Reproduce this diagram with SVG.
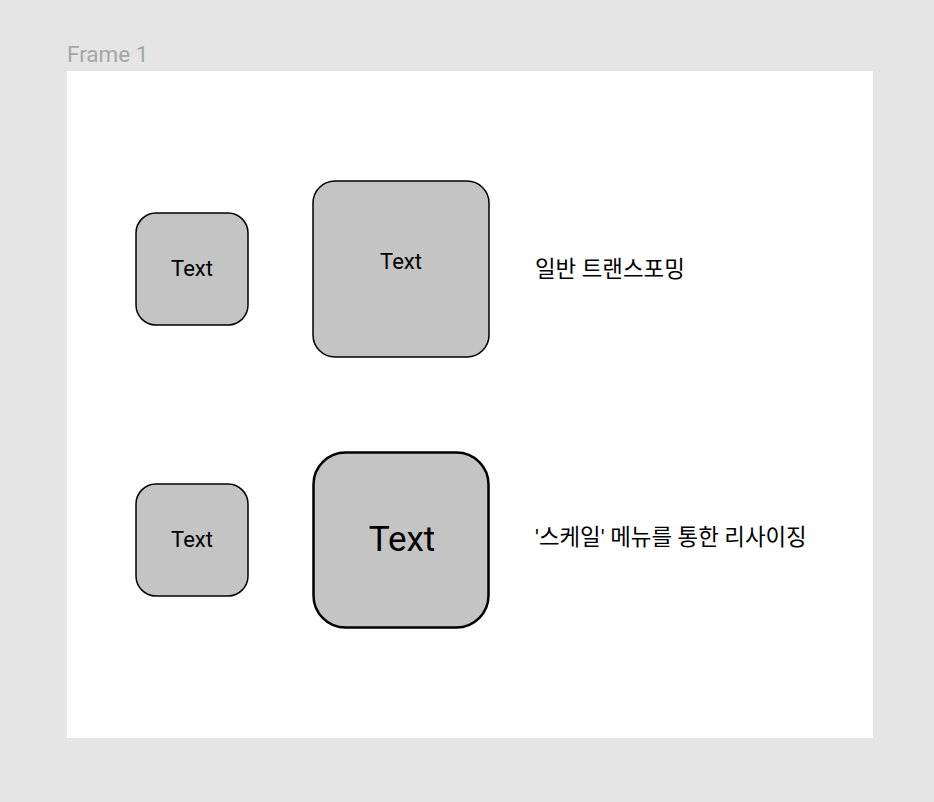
<svg xmlns="http://www.w3.org/2000/svg" width="934" height="802" viewBox="0 0 934 802">
<style>
.box{fill:#c4c4c4;stroke:#000;stroke-width:1.5}
.t{font-family:Roboto,"Noto Sans CJK KR",sans-serif;fill:#000;text-anchor:middle}
.lbl{font-family:Roboto,"Noto Sans CJK KR",sans-serif;fill:#000;font-size:22.4px}
</style>
<rect x="0" y="0" width="934" height="802" fill="#e5e5e5"/>
<text x="67" y="62" font-family="Roboto,sans-serif" font-size="22.5" fill="#a6a6a6">Frame 1</text>
<rect x="67" y="71" width="806" height="667" fill="#fff"/>
<g id="node1">
<rect class="box" x="136" y="213" width="112" height="112" rx="20"/>
<text class="t" x="192" y="276" font-size="22">Text</text>
</g>
<g id="node2">
<rect class="box" x="313" y="181" width="176" height="176" rx="22"/>
<text class="t" x="401" y="269" font-size="22">Text</text>
</g>
<g id="label1"><text class="lbl" x="535" y="277">일반 트랜스포밍</text></g>
<g id="node3">
<rect class="box" x="136" y="484" width="112" height="112" rx="20"/>
<text class="t" x="192" y="547" font-size="22">Text</text>
</g>
<g id="node4">
<rect class="box" x="313.5" y="452.5" width="175" height="175" rx="32" style="stroke-width:2.5"/>
<text class="t" x="402" y="551" font-size="35">Text</text>
</g>
<g id="label2"><text class="lbl" x="535" y="545">'스케일' 메뉴를 통한 리사이징</text></g>
<g id="connectors"/>
</svg>
